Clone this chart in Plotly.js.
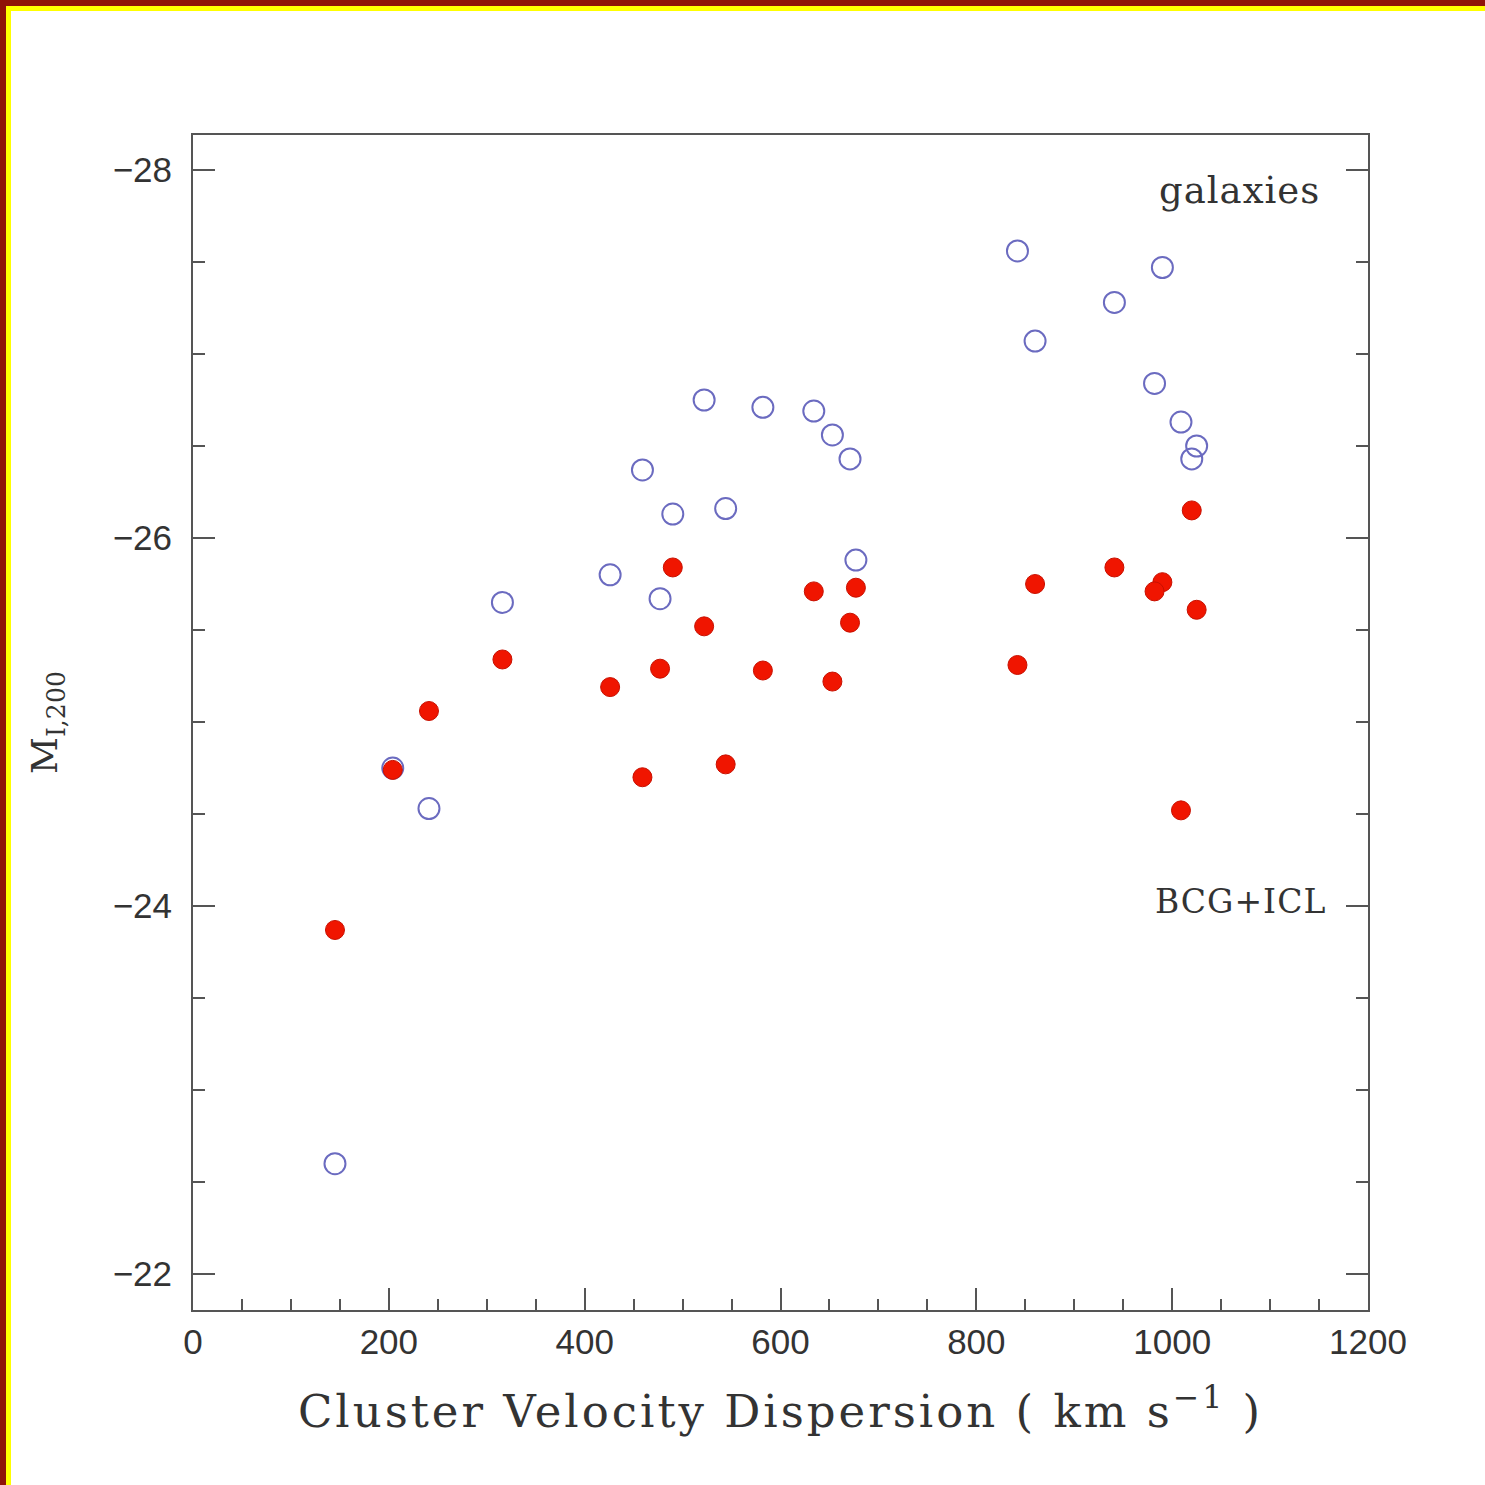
<!DOCTYPE html>
<html>
<head>
<meta charset="utf-8">
<script src="https://cdn.plot.ly/plotly-3.0.1.min.js"></script>
<style>
  html, body { margin: 0; padding: 0; background: #fff; }
  #wrap { position: relative; width: 1485px; height: 1485px; overflow: hidden; }
  #chart { position: absolute; left: 0; top: 0; width: 1485px; height: 1485px; }
  .frame { position: absolute; pointer-events: none; }
  .xtitle { letter-spacing: 3px; }
  .annotation-text { letter-spacing: 1px; }
</style>
</head>
<body>
<div id="wrap">
  <div id="chart"></div>
  <div class="frame" style="left:0;top:0;width:1485px;height:6px;background:#8f1208;"></div>
  <div class="frame" style="left:0;top:0;width:6px;height:1485px;background:#8f1208;"></div>
  <div class="frame" style="left:6px;top:6px;width:1479px;height:5px;background:#ffff00;"></div>
  <div class="frame" style="left:6px;top:6px;width:5px;height:1479px;background:#ffff00;"></div>
</div>
<script>
// Cluster velocity dispersion (km/s)
const sigma = [145, 204, 241, 316, 426, 459, 477, 490, 522, 544, 582, 634, 653, 671, 677, 842, 860, 941, 990, 982, 1009, 1025, 1020];
// Total galaxy magnitude M_I,200
const galaxiesMag = [-22.60, -24.75, -24.53, -25.65, -25.80, -26.37, -25.67, -26.13, -26.75, -26.16, -26.71, -26.69, -26.56, -26.43, -25.88, -27.56, -27.07, -27.28, -27.47, -26.84, -26.63, -26.50, -26.43];
// BCG+ICL magnitude
const bcgIclMag = [-23.87, -24.74, -25.06, -25.34, -25.19, -24.70, -25.29, -25.84, -25.52, -24.77, -25.28, -25.71, -25.22, -25.54, -25.73, -25.31, -25.75, -25.84, -25.76, -25.71, -24.52, -25.61, -26.15];

const xTickVals = [0, 200, 400, 600, 800, 1000, 1200];
const yTickVals = [-28, -26, -24, -22];
const yTickText = ['\u221228', '\u221226', '\u221224', '\u221222'];

const traces = [
  {
    x: sigma, y: galaxiesMag, type: 'scatter', mode: 'markers', name: 'galaxies',
    marker: { symbol: 'circle-open', size: 21, color: '#6b6bc0', line: { width: 2, color: '#6b6bc0' } },
    hoverinfo: 'x+y'
  },
  {
    x: sigma, y: bcgIclMag, type: 'scatter', mode: 'markers', name: 'BCG+ICL',
    marker: { symbol: 'circle', size: 19, color: '#f01500', line: { width: 1, color: '#c81000' } },
    hoverinfo: 'x+y'
  }
];

const axisCommon = {
  showgrid: false, zeroline: false, showline: true, linecolor: '#555', linewidth: 2,
  ticks: 'inside', tickcolor: '#555', tickwidth: 2, ticklen: 22,
  tickfont: { family: 'Liberation Sans, Arial, sans-serif', size: 35, color: '#333' }
};

const layout = {
  width: 1485, height: 1485,
  margin: { l: 193, r: 117, t: 135, b: 175, pad: 0 },
  paper_bgcolor: '#fff', plot_bgcolor: '#fff',
  showlegend: false,
  xaxis: Object.assign({}, axisCommon, {
    mirror: true,
    range: [0, 1200], tickmode: 'array', tickvals: xTickVals,
    ticklabelstandoff: 0,
    minor: { dtick: 50, ticks: 'inside', ticklen: 11, tickwidth: 2, tickcolor: '#555', showgrid: false },
    title: { text: 'Cluster Velocity Dispersion ( km s<sup>\u22121</sup> )', standoff: 35,
             font: { family: 'DejaVu Serif, serif', size: 45, color: '#333' } }
  }),
  yaxis: Object.assign({}, axisCommon, {
    mirror: 'ticks',
    range: [-21.805, -28.19], tickmode: 'array', tickvals: yTickVals, ticktext: yTickText,
    ticklabelstandoff: 12,
    minor: { dtick: 0.5, ticks: 'inside', ticklen: 12, tickwidth: 2, tickcolor: '#555', showgrid: false },
    title: { text: 'M<sub>I,200</sub>', standoff: 44,
             font: { family: 'DejaVu Serif, serif', size: 36, color: '#333' } }
  }),
  annotations: [
    { text: 'galaxies', xref: 'paper', yref: 'paper', x: 0.961, y: 0.953, xanchor: 'right', yanchor: 'middle',
      showarrow: false, font: { family: 'DejaVu Serif, serif', size: 37, color: '#333' } },
    { text: 'BCG+ICL', xref: 'paper', yref: 'paper', x: 0.966, y: 0.348, xanchor: 'right', yanchor: 'middle',
      showarrow: false, font: { family: 'DejaVu Serif, serif', size: 33, color: '#333' } }
  ]
};

Plotly.newPlot('chart', traces, layout, { displayModeBar: false, staticPlot: true });
</script>
</body>
</html>
